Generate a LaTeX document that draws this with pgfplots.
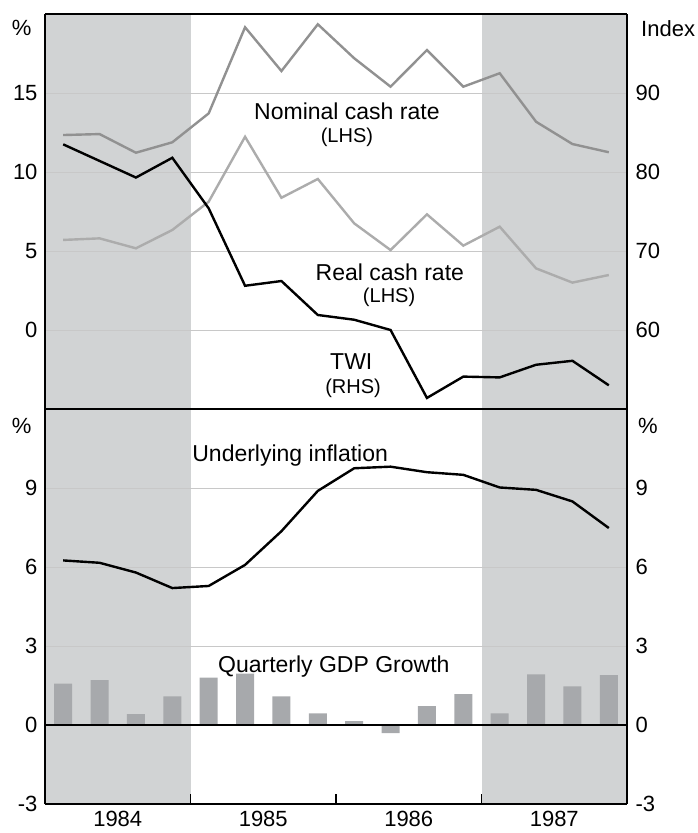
\documentclass[border=0pt]{standalone}
\usepackage{fontspec}
\setmainfont{Liberation Sans}
\usepackage{pgfplots}
\pgfplotsset{compat=1.18}
\definecolor{shadec}{RGB}{209,211,212}
\definecolor{gridc}{RGB}{200,200,200}
\definecolor{nomc}{RGB}{145,145,145}
\definecolor{realc}{RGB}{172,172,172}
\definecolor{barc}{RGB}{167,169,172}
\newcommand\fs{\fontsize{23bp}{27bp}\selectfont}
\newcommand\ft{\fontsize{22bp}{26bp}\selectfont}
\newcommand\fss{\fontsize{20bp}{24bp}\selectfont}
\pgfplotsset{
  base/.style={
    set layers, scale only axis, width=582bp, height=395bp,
    xmin=0.5, xmax=16.5,
    /pgf/number format/assume math mode=true,
    tick label style={font=\ft, text=black},
    axis line style={line width=1.3bp, black},
    major tick length=0pt,
    clip=false,
  },
}
\begin{document}
\begin{tikzpicture}
% ---------------- top panel, left axis
\begin{axis}[base, at={(45bp,-14bp)}, anchor=north west,
  ymin=-5, ymax=20, ytick={0,5,10,15}, xtick=\empty,
  ymajorgrids, grid style={color=gridc, line width=0.9bp},
  axis y line*=left, axis x line=box,
  yticklabel style={xshift=-4bp},
]
\begin{pgfonlayer}{axis background}
\fill[shadec] (axis cs:0.5,-5) rectangle (axis cs:4.5,20);
\fill[shadec] (axis cs:12.5,-5) rectangle (axis cs:16.5,20);
\end{pgfonlayer}
\addplot[nomc, line width=2.4bp, mark=none] coordinates {
(1,12.34) (2,12.4) (3,11.22) (4,11.88) (5,13.71) (6,19.16) (7,16.39) (8,19.35)
(9,17.2) (10,15.4) (11,17.72) (12,15.4) (13,16.25) (14,13.18) (15,11.77) (16,11.25)};
\addplot[realc, line width=2.4bp, mark=none] coordinates {
(1,5.7) (2,5.8) (3,5.17) (4,6.33) (5,8.12) (6,12.23) (7,8.37) (8,9.56)
(9,6.75) (10,5.06) (11,7.32) (12,5.34) (13,6.54) (14,3.9) (15,3.0) (16,3.48)};
\node[font=\fs, anchor=base] at (axis cs:8.80,13.35) {Nominal cash rate};
\node[font=\fss, anchor=base] at (axis cs:8.80,11.84) {(LHS)};
\node[font=\fs, anchor=base] at (axis cs:9.98,3.16) {Real cash rate};
\node[font=\fss, anchor=base] at (axis cs:9.96,1.71) {(LHS)};
\node[font=\fs, anchor=base] at (axis cs:8.92,-2.53) {TWI};
\node[font=\fss, anchor=base] at (axis cs:8.97,-3.99) {(RHS)};
\node[font=\ft, anchor=east] at (axis cs:0.5,19.1) [xshift=-10bp] {\%};
\end{axis}
% ---------------- top panel, right axis
\begin{axis}[base, at={(45bp,-14bp)}, anchor=north west,
  ymin=50, ymax=100, ytick={60,70,80,90},
  axis y line*=right, hide x axis,
  yticklabel style={xshift=5bp},
]
\addplot[black, line width=2.4bp, mark=none] coordinates {
(1,83.5) (2,81.4) (3,79.3) (4,81.8) (5,75.4) (6,65.6) (7,66.2) (8,61.9)
(9,61.3) (10,60.0) (11,51.4) (12,54.1) (13,54.0) (14,55.6) (15,56.1) (16,53.0)};
\node[font=\ft, anchor=west, inner sep=0pt] at (axis cs:16.5,98.2) [xshift=14bp] {Index};
\end{axis}
% ---------------- bottom panel, left axis
\begin{axis}[base, at={(45bp,-409bp)}, anchor=north west,
  ymin=-3, ymax=12, ytick={-3,0,3,6,9},
  ymajorgrids, grid style={color=gridc, line width=0.9bp},
  axis y line*=left, axis x line=box,
  yticklabel style={xshift=-4bp},
  xtick={2.5,6.5,10.5,14.5}, xticklabels={1984,1985,1986,1987},
  xtick pos=left, xticklabel style={font=\ft, yshift=-4bp},
  extra x ticks={4.5,8.5,12.5}, extra x tick labels={},
  extra x tick style={major tick length=10bp, tick align=inside,
    tick style={black, line width=1.1bp}, grid=none},
]
\begin{pgfonlayer}{axis background}
\fill[shadec] (axis cs:0.5,-3) rectangle (axis cs:4.5,12);
\fill[shadec] (axis cs:12.5,-3) rectangle (axis cs:16.5,12);
\end{pgfonlayer}
\addplot[ybar, bar width=18bp, fill=barc, draw=none] coordinates {
(1,1.57) (2,1.70) (3,0.415) (4,1.09) (5,1.80) (6,1.95) (7,1.09) (8,0.44)
(9,0.15) (10,-0.31) (11,0.72) (12,1.17) (13,0.44) (14,1.92) (15,1.47) (16,1.89)};
\draw[black, line width=1.3bp] (axis cs:0.5,0) -- (axis cs:16.5,0);
\addplot[black, line width=2.4bp, mark=none] coordinates {
(1,6.25) (2,6.16) (3,5.79) (4,5.2) (5,5.28) (6,6.08) (7,7.36) (8,8.89)
(9,9.75) (10,9.81) (11,9.6) (12,9.5) (13,9.02) (14,8.93) (15,8.49) (16,7.48)};
\node[font=\fs, anchor=base] at (axis cs:7.24,10.0) {Underlying inflation};
\node[font=\fs, anchor=base] at (axis cs:8.44,2.0) {Quarterly GDP Growth};
\node[font=\ft, anchor=east] at (axis cs:0.5,11.36) [xshift=-10bp] {\%};
\end{axis}
% ---------------- bottom panel, right axis
\begin{axis}[base, at={(45bp,-409bp)}, anchor=north west,
  ymin=-3, ymax=12, ytick={-3,0,3,6,9},
  axis y line*=right, hide x axis,
  yticklabel style={xshift=5bp},
]
\addplot[draw=none] coordinates {(1,0)};
\node[font=\ft, anchor=west, inner sep=0pt] at (axis cs:16.5,11.36) [xshift=11bp] {\%};
\end{axis}
\pgfresetboundingbox
\path[use as bounding box] (0,0) rectangle (698bp,-833bp);
\end{tikzpicture}
\end{document}
